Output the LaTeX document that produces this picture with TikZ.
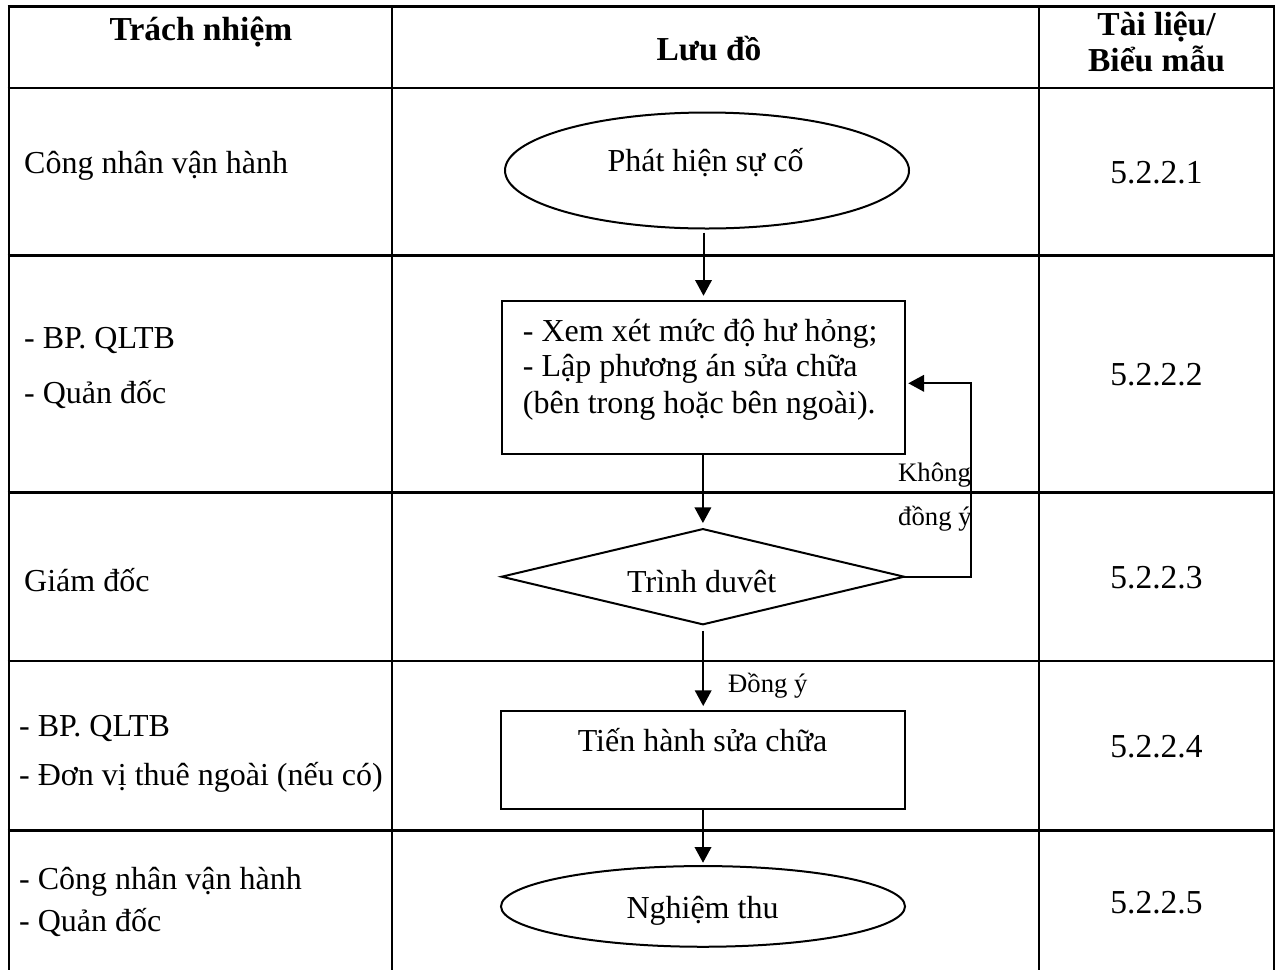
\documentclass[tikz,border=0pt]{standalone}
\usepackage{fontspec}
\setmainfont{Liberation Serif}
\usetikzlibrary{shapes.geometric,arrows.meta}
\begin{document}
\begin{tikzpicture}[x=1pt,y=-1pt,
  gridline/.style={line width=2.6pt},
  shp/.style={draw, line width=2pt, fill=white, inner sep=0pt, outer sep=0pt},
  arr/.style={line width=2pt, -{Triangle[length=15.7pt,width=16.5pt]}},
  txt/.style={inner sep=0pt, font=\fontsize{32}{38}\selectfont},
  hdr/.style={inner sep=0pt, font=\fontsize{33.5}{40}\selectfont\bfseries},
  num/.style={inner sep=0pt, font=\fontsize{33.5}{40}\selectfont},
  lbl/.style={inner sep=0pt, font=\fontsize{26.7}{32}\selectfont},
]
\useasboundingbox (0,0) rectangle (1276,970);
\fill[white] (0,0) rectangle (1276,970);

% table grid
\foreach \yy in {6.7,88,255.5,492.7,661,830.7}
  \draw[gridline] (7.7,\yy) -- (1275.3,\yy);
\foreach \xx in {9,392,1039,1274}
  \draw[gridline] (\xx,6.7) -- (\xx,970);

% headers
\node[hdr, anchor=base] (h1) at (201,40.7) {Trách nhiệm};
\node[hdr, anchor=base] (h2) at (709,60) {Lưu đồ};
\node[hdr, anchor=base] (h3a) at (1156.5,35) {Tài liệu/};
\node[hdr, anchor=base] (h3b) at (1156.5,71) {Biểu mẫu};

% left column
\node[txt, anchor=base west] (r1) at (24,173) {Công nhân vận hành};
\node[txt, anchor=base west] (r2a) at (24,348) {- BP. QLTB};
\node[txt, anchor=base west] (r2b) at (24,403) {- Quản đốc};
\node[txt, anchor=base west] (r3) at (24,591.7) {Giám đốc};
\node[txt, anchor=base west] (r4a) at (19,736.7) {- BP. QLTB};
\node[txt, anchor=base west] (r4b) at (19,785) {- Đơn vị thuê ngoài (nếu có)};
\node[txt, anchor=base west] (r5a) at (19,889) {- Công nhân vận hành};
\node[txt, anchor=base west] (r5b) at (19,931.7) {- Quản đốc};

% right column
\node[num, anchor=base] (n1) at (1156.5,183.3) {5.2.2.1};
\node[num, anchor=base] (n2) at (1156.5,385.7) {5.2.2.2};
\node[num, anchor=base] (n3) at (1156.5,588.5) {5.2.2.3};
\node[num, anchor=base] (n4) at (1156.5,757.5) {5.2.2.4};
\node[num, anchor=base] (n5) at (1156.5,913) {5.2.2.5};

% flowchart shapes
\node[shp, ellipse, minimum width=404pt, minimum height=116pt] (e1) at (707,170.5) {};
\node[shp, rectangle, minimum width=403.6pt, minimum height=153.3pt] (b1) at (703.5,377.7) {};
\node[shp, diamond, aspect=4.2, minimum width=402.3pt, minimum height=95.3pt] (d1) at (702.9,576.7) {};
\node[shp, rectangle, minimum width=404.3pt, minimum height=98.3pt] (b2) at (703.2,759.9) {};
\node[shp, ellipse, minimum width=404pt, minimum height=80.7pt] (e2) at (703,906.4) {};

% flowchart texts
\node[txt, anchor=base] (te1) at (705.5,171) {Phát hiện sự cố};
\node[txt, anchor=base west] (tb1a) at (522.7,341.7) {- Xem xét mức độ hư hỏng;};
\node[txt, anchor=base west] (tb1b) at (522.7,376.7) {- Lập phương án sửa chữa};
\node[txt, anchor=base west] (tb1c) at (522.7,413) {(bên trong hoặc bên ngoài).};
\node[txt, anchor=base] (td1) at (701.7,592) {Trình duvêt};
\node[txt, anchor=base] (tb2) at (702.5,751) {Tiến hành sửa chữa};
\node[txt, anchor=base] (te2) at (702.5,918) {Nghiệm thu};

% connectors
\draw[arr, shorten <=4pt, shorten >=5.3pt] (e1.south -| b1.north) -- (b1.north);
\draw[arr, shorten >=6pt] (b1.south -| d1.north) -- (d1.north);
\draw[arr, shorten <=6.4pt, shorten >=4.7pt] (d1.south -| b2.north) -- (b2.north);
\draw[arr, shorten >=3.3pt] (b2.south -| e2.north) -- (e2.north);
\coordinate (fb) at (971,383.3);
\draw[arr, shorten >=3pt] (d1.east) -| (fb) -- (b1.east |- fb);

% connector labels
\node[lbl, anchor=base west] (lno1) at (898,481.7) {Không};
\node[lbl, anchor=base west] (lno2) at (898,525) {đồng ý};
\node[lbl, anchor=base west] (lyes) at (728,692.3) {Đồng ý};
\end{tikzpicture}
\end{document}
